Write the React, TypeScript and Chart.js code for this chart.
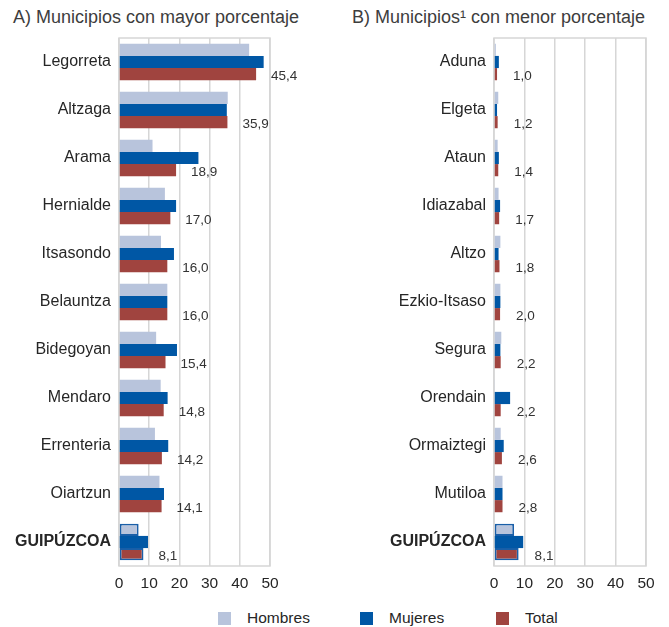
import React, { useEffect, useRef } from "react";
import { Chart, registerables } from "chart.js";

Chart.register(...registerables);

const seriesNames = ["Hombres", "Mujeres", "Total"];
const seriesColors = ["#b8c4dc", "#0057a5", "#a0443f"];

const categoriesA = ["Legorreta", "Altzaga", "Arama", "Hernialde", "Itsasondo", "Belauntza", "Bidegoyan", "Mendaro", "Errenteria", "Oiartzun", "GUIPÚZCOA"];
const hombresA = [43.1, 36.0, 11.1, 15.2, 13.9, 16.0, 12.3, 13.8, 11.9, 13.4, 6.5];
const mujeresA = [47.9, 35.7, 26.3, 18.9, 18.2, 16.0, 19.2, 16.1, 16.3, 14.9, 9.6];
const totalA = [45.4, 35.9, 18.9, 17.0, 16.0, 16.0, 15.4, 14.8, 14.2, 14.1, 8.1];

const categoriesB = ["Aduna", "Elgeta", "Ataun", "Idiazabal", "Altzo", "Ezkio-Itsaso", "Segura", "Orendain", "Ormaiztegi", "Mutiloa", "GUIPÚZCOA"];
const hombresB = [0.6, 1.4, 1.2, 1.5, 2.1, 2.1, 2.4, 0.3, 2.2, 2.8, 6.6];
const mujeresB = [1.6, 1.0, 1.6, 2.0, 1.5, 2.1, 2.1, 5.3, 3.2, 2.8, 9.6];
const totalB = [1.0, 1.2, 1.4, 1.7, 1.8, 2.0, 2.2, 2.2, 2.6, 2.8, 8.1];

const xTicks = [0, 10, 20, 30, 40, 50];

const FONT = "'Liberation Sans', Arial, Helvetica, sans-serif";
const TEXT = "#262626";
const GRID = "#d6d6d6";

type PanelProps = {
  categories: string[];
  hombres: number[];
  mujeres: number[];
  total: number[];
  width: number;
  height: number;
  axisWidth: number;
  padRight: number;
  labelOffset: number;
};

function Panel(p: PanelProps) {
  const ref = useRef<HTMLCanvasElement | null>(null);
  useEffect(() => {
    if (!ref.current) return;
    const lastIdx = p.categories.length - 1;
    const fmt = (v: number) => v.toFixed(1).replace(".", ",");
    const boxPlugin = {
      id: "box",
      beforeDatasetsDraw(chart: any) {
        const { ctx, chartArea } = chart;
        ctx.save();
        ctx.strokeStyle = GRID;
        ctx.lineWidth = 1.5;
        ctx.strokeRect(chartArea.left, chartArea.top, chartArea.right - chartArea.left, chartArea.bottom - chartArea.top);
        ctx.restore();
      },
    };
    const labelPlugin = {
      id: "vals",
      afterDatasetsDraw(chart: any) {
        const { ctx } = chart;
        const meta = chart.getDatasetMeta(2);
        ctx.save();
        ctx.font = `13.5px ${FONT}`;
        ctx.fillStyle = "#333";
        ctx.textAlign = "left";
        ctx.textBaseline = "middle";
        meta.data.forEach((bar: any, i: number) => {
          ctx.fillText(fmt(p.total[i]), bar.x + p.labelOffset, bar.y + 2);
        });
        ctx.restore();
      },
    };
    const values = [p.hombres, p.mujeres, p.total];
    const chart = new Chart(ref.current, {
      type: "bar",
      data: {
        labels: p.categories,
        datasets: values.map((d, k) => ({
          label: seriesNames[k],
          data: d,
          backgroundColor: seriesColors[k],
          borderColor: "#1a5fa8",
          borderWidth: (c: any) => (k !== 1 && c.dataIndex === lastIdx ? 1.8 : 0),
          borderSkipped: false,
          barPercentage: 1,
          categoryPercentage: 0.76,
        })),
      },
      options: {
        indexAxis: "y",
        animation: false,
        responsive: false,
        devicePixelRatio: 1,
        layout: { padding: { left: 0, right: p.padRight, top: 38, bottom: 4 } },
        plugins: { legend: { display: false }, tooltip: { enabled: false }, title: { display: false } },
        scales: {
          x: {
            min: xTicks[0],
            max: xTicks[xTicks.length - 1],
            afterBuildTicks: (s: any) => {
              s.ticks = xTicks.map((v) => ({ value: v }));
            },
            afterFit: (s: any) => {
              s.height = 30;
            },
            grid: { color: GRID, lineWidth: 1.5, drawTicks: false },
            border: { display: false },
            ticks: { padding: 8, color: TEXT, font: { size: 15.5, family: FONT }, maxRotation: 0 },
          },
          y: {
            afterFit: (s: any) => {
              s.width = p.axisWidth;
            },
            grid: { display: false, drawTicks: false },
            border: { display: false },
            ticks: {
              padding: 8,
              color: TEXT,
              font: (c: any) => ({ size: 16, family: FONT, weight: c.index === lastIdx ? "bold" : "normal" }),
            },
          },
        },
      },
      plugins: [boxPlugin, labelPlugin],
    } as any);
    return () => chart.destroy();
  }, []);
  return <canvas ref={ref} width={p.width} height={p.height} style={{ display: "block", width: p.width, height: p.height }} />;
}

export default function App() {
  const titleStyle: React.CSSProperties = {
    position: "absolute",
    top: 6,
    fontFamily: FONT,
    fontSize: 18,
    lineHeight: "22px",
    color: "#3d3d3d",
    whiteSpace: "nowrap",
  };
  const legendPos = [
    { sw: 218, tx: 247 },
    { sw: 360, tx: 389 },
    { sw: 496, tx: 525 },
  ];
  return (
    <div style={{ position: "absolute", left: 0, top: 0, width: 669, height: 627, background: "#fff", overflow: "hidden" }}>
      <div style={{ ...titleStyle, left: 13 }}>A) Municipios con mayor porcentaje</div>
      <div style={{ ...titleStyle, left: 352 }}>B) Municipios¹ con menor porcentaje</div>
      <div style={{ position: "absolute", left: 0, top: 0 }}>
        <Panel categories={categoriesA} hombres={hombresA} mujeres={mujeresA} total={totalA} width={335} height={600} axisWidth={119} padRight={65} labelOffset={15} />
      </div>
      <div style={{ position: "absolute", left: 335, top: 0 }}>
        <Panel categories={categoriesB} hombres={hombresB} mujeres={mujeresB} total={totalB} width={334} height={600} axisWidth={159} padRight={23} labelOffset={16} />
      </div>
      {seriesNames.map((n, i) => (
        <React.Fragment key={n}>
          <div style={{ position: "absolute", left: legendPos[i].sw, top: 612, width: 13, height: 13, background: seriesColors[i] }} />
          <div style={{ position: "absolute", left: legendPos[i].tx, top: 608, fontFamily: FONT, fontSize: 15.5, lineHeight: "20px", color: TEXT }}>{n}</div>
        </React.Fragment>
      ))}
    </div>
  );
}
